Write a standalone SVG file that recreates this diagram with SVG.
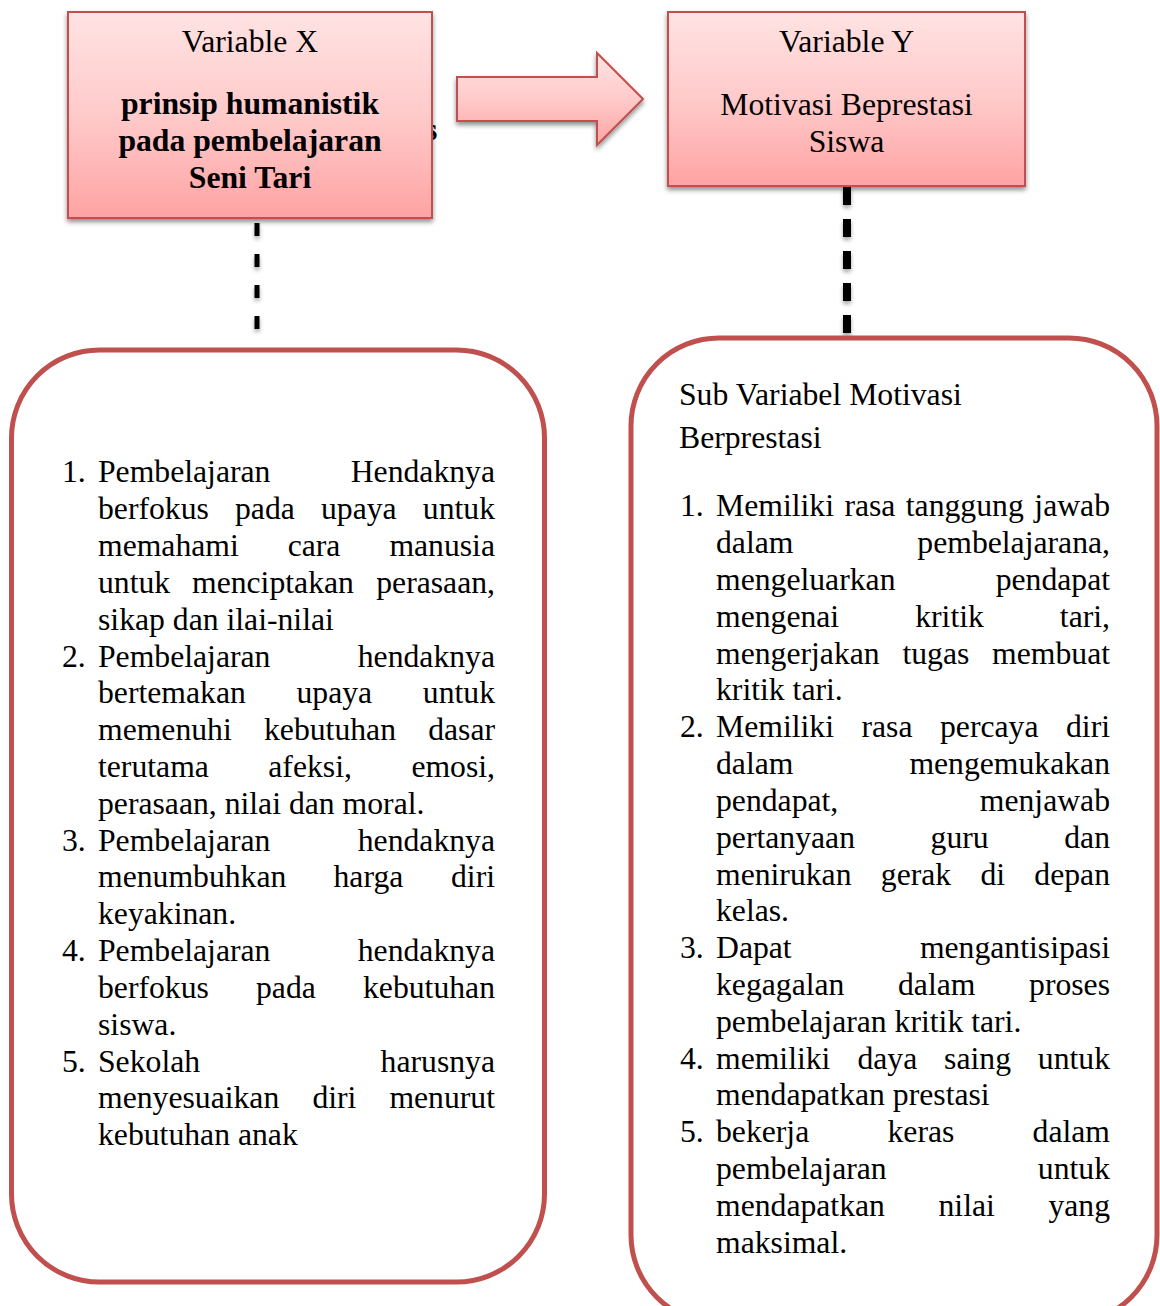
<svg xmlns="http://www.w3.org/2000/svg" width="1160" height="1306" viewBox="0 0 1160 1306">
<defs>
<linearGradient id="pink" x1="0" y1="0" x2="0" y2="1">
<stop offset="0" stop-color="#FFE3E3"/>
<stop offset="0.5" stop-color="#FFCACA"/>
<stop offset="1" stop-color="#FFA3A3"/>
</linearGradient>
<filter id="sh" x="-10%" y="-10%" width="120%" height="130%">
<feGaussianBlur in="SourceAlpha" stdDeviation="2.5"/>
<feOffset dx="0" dy="3" result="b"/>
<feComponentTransfer><feFuncA type="linear" slope="0.45"/></feComponentTransfer>
<feMerge><feMergeNode/><feMergeNode in="SourceGraphic"/></feMerge>
</filter>
<filter id="shs" filterUnits="userSpaceOnUse" x="0" y="150" width="1160" height="250">
<feGaussianBlur in="SourceAlpha" stdDeviation="2"/>
<feOffset dx="0" dy="3"/>
<feComponentTransfer><feFuncA type="linear" slope="0.35"/></feComponentTransfer>
<feMerge><feMergeNode/><feMergeNode in="SourceGraphic"/></feMerge>
</filter>
</defs>
<style>
text{font-family:"Liberation Serif","Times New Roman",serif;font-size:31.7px;fill:#000}
.b{font-weight:bold}
.c{text-anchor:middle}
.e{text-anchor:end}
.head{fill:url(#pink);stroke:#C0504D;stroke-width:2;filter:url(#sh)}
.panel{fill:#fff;stroke:#C0504D;stroke-width:5}
.dash{stroke:#000;fill:none;filter:url(#shs)}
</style>
<rect width="1160" height="1306" fill="#fff"/>

<text class="b" x="425" y="140">s</text>

<g id="connectors">
<line class="dash" x1="257" y1="223" x2="257" y2="335" stroke-width="5" stroke-dasharray="13,18"/>
<line class="dash" x1="847" y1="187" x2="847" y2="337" stroke-width="8" stroke-dasharray="18,14"/>
<polygon id="arrow" class="head" points="457,77 597,77 597,53 643,99 597,145 597,121 457,121"/>
</g>

<g id="variable-x">
<rect class="head" x="68" y="12" width="364" height="206"/>
<text class="c" x="250" y="52">Variable X</text>
<text class="c b" x="250" y="114">prinsip humanistik</text>
<text class="c b" x="250" y="151">pada pembelajaran</text>
<text class="c b" x="250" y="188">Seni Tari</text>
</g>

<g id="variable-y">
<rect class="head" x="668" y="12" width="357" height="174"/>
<text class="c" x="846.5" y="52">Variable Y</text>
<text class="c" x="846.5" y="115">Motivasi Beprestasi</text>
<text class="c" x="846.5" y="152">Siswa</text>
</g>

<g id="list-x">
<rect class="panel" x="11.5" y="350" width="533" height="932" rx="88" ry="88"/>
<text x="62" y="482">1.</text><text x="98" y="482">Pembelajaran</text><text class="e" x="495" y="482">Hendaknya</text>
<text x="98" y="519">berfokus</text><text x="235" y="519">pada</text><text x="321" y="519">upaya</text><text class="e" x="495" y="519">untuk</text>
<text x="98" y="556">memahami</text><text x="287.7" y="556">cara</text><text class="e" x="495" y="556">manusia</text>
<text x="98" y="593">untuk</text><text x="192" y="593">menciptakan</text><text class="e" x="495" y="593">perasaan,</text>
<text x="98" y="630">sikap dan ilai-nilai</text>
<text x="62" y="667">2.</text><text x="98" y="667">Pembelajaran</text><text class="e" x="495" y="667">hendaknya</text>
<text x="98" y="703">bertemakan</text><text x="296.5" y="703">upaya</text><text class="e" x="495" y="703">untuk</text>
<text x="98" y="740">memenuhi</text><text x="264" y="740">kebutuhan</text><text class="e" x="495" y="740">dasar</text>
<text x="98" y="777">terutama</text><text x="268.3" y="777">afeksi,</text><text class="e" x="495" y="777">emosi,</text>
<text x="98" y="814">perasaan, nilai dan moral.</text>
<text x="62" y="851">3.</text><text x="98" y="851">Pembelajaran</text><text class="e" x="495" y="851">hendaknya</text>
<text x="98" y="887">menumbuhkan</text><text x="333.5" y="887">harga</text><text class="e" x="495" y="887">diri</text>
<text x="98" y="924">keyakinan.</text>
<text x="62" y="961">4.</text><text x="98" y="961">Pembelajaran</text><text class="e" x="495" y="961">hendaknya</text>
<text x="98" y="998">berfokus</text><text x="256" y="998">pada</text><text class="e" x="495" y="998">kebutuhan</text>
<text x="98" y="1035">siswa.</text>
<text x="62" y="1072">5.</text><text x="98" y="1072">Sekolah</text><text class="e" x="495" y="1072">harusnya</text>
<text x="98" y="1108">menyesuaikan</text><text x="312.4" y="1108">diri</text><text class="e" x="495" y="1108">menurut</text>
<text x="98" y="1145">kebutuhan anak</text>
</g>

<g id="list-y">
<rect class="panel" x="631" y="338" width="526" height="985" rx="88" ry="88"/>
<text x="679" y="405">Sub Variabel Motivasi</text>
<text x="679" y="448">Berprestasi</text>
<text x="680" y="516">1.</text><text x="716" y="516">Memiliki</text><text x="844.4" y="516">rasa</text><text x="905.8" y="516">tanggung</text><text class="e" x="1110" y="516">jawab</text>
<text x="716" y="553">dalam</text><text class="e" x="1110" y="553">pembelajarana,</text>
<text x="716" y="590">mengeluarkan</text><text class="e" x="1110" y="590">pendapat</text>
<text x="716" y="627">mengenai</text><text x="915.2" y="627">kritik</text><text class="e" x="1110" y="627">tari,</text>
<text x="716" y="664">mengerjakan</text><text x="902.4" y="664">tugas</text><text class="e" x="1110" y="664">membuat</text>
<text x="716" y="700">kritik tari.</text>
<text x="680" y="737">2.</text><text x="716" y="737">Memiliki</text><text x="861.5" y="737">rasa</text><text x="940" y="737">percaya</text><text class="e" x="1110" y="737">diri</text>
<text x="716" y="774">dalam</text><text class="e" x="1110" y="774">mengemukakan</text>
<text x="716" y="811">pendapat,</text><text class="e" x="1110" y="811">menjawab</text>
<text x="716" y="848">pertanyaan</text><text x="930.6" y="848">guru</text><text class="e" x="1110" y="848">dan</text>
<text x="716" y="885">menirukan</text><text x="880.8" y="885">gerak</text><text x="980.4" y="885">di</text><text class="e" x="1110" y="885">depan</text>
<text x="716" y="921">kelas.</text>
<text x="680" y="958">3.</text><text x="716" y="958">Dapat</text><text class="e" x="1110" y="958">mengantisipasi</text>
<text x="716" y="995">kegagalan</text><text x="898" y="995">dalam</text><text class="e" x="1110" y="995">proses</text>
<text x="716" y="1032">pembelajaran kritik tari.</text>
<text x="680" y="1069">4.</text><text x="716" y="1069">memiliki</text><text x="857.4" y="1069">daya</text><text x="944.1" y="1069">saing</text><text class="e" x="1110" y="1069">untuk</text>
<text x="716" y="1105">mendapatkan prestasi</text>
<text x="680" y="1142">5.</text><text x="716" y="1142">bekerja</text><text x="887.5" y="1142">keras</text><text class="e" x="1110" y="1142">dalam</text>
<text x="716" y="1179">pembelajaran</text><text class="e" x="1110" y="1179">untuk</text>
<text x="716" y="1216">mendapatkan</text><text x="938.5" y="1216">nilai</text><text class="e" x="1110" y="1216">yang</text>
<text x="716" y="1253">maksimal.</text>
</g>
</svg>
